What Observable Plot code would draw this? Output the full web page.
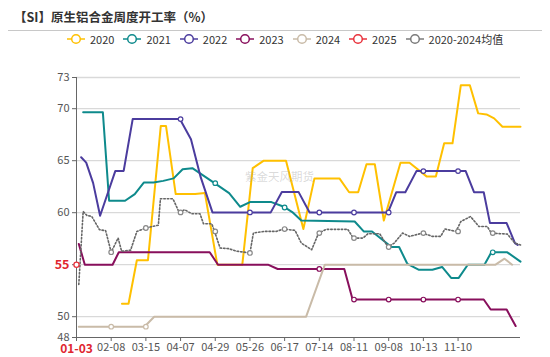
<!DOCTYPE html>
<html><head><meta charset="utf-8">
<script src="https://cdn.jsdelivr.net/npm/d3@7"></script>
<script src="https://cdn.jsdelivr.net/npm/@observablehq/plot@0.6"></script>
<style>
body{margin:0;width:550px;height:357px;overflow:hidden;background:#fff;font-family:"Noto Sans CJK SC","Noto Sans",sans-serif;}
#head{position:relative;height:50px;}
#title{position:absolute;left:14px;top:7px;font-size:12.5px;font-weight:bold;color:#333;white-space:nowrap;}
#rule{position:absolute;left:8px;top:30px;width:534px;height:1px;background:#c8c8c8;}
#legend{position:absolute;left:67px;top:31px;display:flex;align-items:center;font-size:11px;color:#333;white-space:nowrap;}
.item{display:flex;align-items:center;margin-right:9px;height:16px;}
.item svg{margin-right:5px;}
#chart{position:relative;}
#wm{position:absolute;left:245px;top:118px;font-size:11.5px;color:rgba(160,160,160,0.4);white-space:nowrap;}
</style></head>
<body>
<div id="head"><div id="title">【SI】原生铝合金周度开工率（%）</div><div id="rule"></div><div id="legend"></div></div>
<div id="chart"><div id="wm">紫金天风期货</div></div>
<script>
// ---- data (x = category position along the week axis, y = utilisation %) ----
const xTickPos = [0,5,10,15,20,25,30,35,40,45,50,55];
const xTickLabels = ["01-03","02-08","03-15","04-07","04-29","05-26","06-17","07-14","08-11","09-08","10-13","11-10"];
const yTicks = [48,50,55,60,65,70,73];
const yGrid = [50,55,60,65,70,73];

const seriesNames = ["2020","2021","2022","2023","2024","2025","2020-2024均值"];
const seriesColors = ["#FFC000","#0E8A8C","#4B3C9E","#880F5C","#C9BBA8","#E8323C","#7a7a7a"];

const s2020 = [[6.55,51.24],[7.5,51.24],[8.7,55.43],[10.3,55.43],[12.15,68.34],[12.9,68.34],[14.3,61.79],[17.1,61.79],[18.5,61.9],[20.3,55.0],[23.9,55.0],[25.4,64.28],[27.0,65.0],[30.2,65.0],[32.7,58.43],[34.3,63.3],[37.9,63.3],[39.3,61.97],[40.6,61.97],[41.8,64.66],[43.0,64.66],[44.3,59.25],[46.7,64.8],[48.0,64.8],[50.5,63.47],[51.8,63.47],[53.0,66.67],[54.2,66.67],[55.4,72.26],[56.7,72.26],[57.9,69.55],[59.1,69.45],[60.2,69.07],[61.4,68.26],[64,68.26]];
const s2021 = [[0.96,69.65],[3.8,69.65],[4.7,61.15],[7.0,61.15],[8.4,61.79],[9.7,62.9],[11.1,62.9],[12.5,63.06],[14.0,63.3],[15.3,64.18],[16.7,64.28],[19.9,62.84],[22.0,61.88],[23.6,60.57],[25.0,61.02],[28.1,61.02],[29.8,60.6],[31.1,60.06],[32.4,59.25],[40.1,59.15],[41.4,58.2],[42.6,58.2],[45.4,56.7],[46.5,56.7],[47.7,55.07],[49.3,54.52],[51.3,54.52],[52.7,54.78],[54.0,53.73],[55.1,53.73],[56.4,55.0],[58.8,55.0],[59.8,56.19],[62.1,56.19],[64,55.3]];
const s2022 = [[0.67,65.33],[1.4,64.82],[2.4,62.84],[3.4,59.71],[5.6,64.02],[6.8,64.02],[8.1,69.0],[14.9,69.0],[16.5,67.06],[17.9,63.42],[19.6,60.03],[28.0,60.03],[29.6,62.0],[32.0,62.0],[33.6,60.02],[44.9,60.02],[46.1,61.97],[47.4,61.97],[49.0,64.0],[56.1,64.0],[57.3,61.97],[58.7,61.97],[59.6,59.0],[62.0,59.0],[63.2,57.08],[63.6,56.9]];
const s2023 = [[0.33,57.0],[1.2,55.0],[5.2,55.0],[6.1,56.2],[19.2,56.2],[20.4,55.0],[27.6,55.0],[29.0,54.59],[38.6,54.59],[39.8,51.65],[58.7,51.65],[59.7,50.69],[62.0,50.69],[63.3,49.1]];
const s2024 = [[0.33,49.04],[9.8,49.04],[11.2,50.0],[33.1,50.0],[35.8,55.0],[60.4,55.0],[61.7,55.58],[62.8,55.0]];
const s2025 = [[0,55]];
const sAvg = [[0.33,53.1],[0.96,60.12],[1.5,59.74],[2.2,59.64],[3.3,58.37],[4.2,58.27],[5.0,56.2],[6.0,57.57],[6.5,56.3],[7.8,56.4],[8.7,58.2],[10.0,58.53],[11.8,58.8],[12.1,61.34],[13.9,61.34],[14.8,60.03],[15.6,60.28],[16.6,59.9],[17.8,59.9],[18.3,58.94],[19.5,58.94],[19.9,58.2],[20.7,56.6],[21.9,56.55],[23.1,56.3],[25.0,56.13],[25.5,58.05],[27.1,58.2],[28.8,58.2],[29.8,58.43],[31.5,58.3],[32.4,57.08],[33.9,56.44],[34.9,58.04],[36.0,58.4],[39.1,58.4],[39.9,57.56],[41.3,57.56],[42.0,57.98],[43.7,57.98],[44.9,56.7],[45.8,57.08],[47.0,58.04],[48.0,57.72],[49.9,58.04],[51.3,57.72],[52.5,57.72],[53.1,58.43],[54.7,58.2],[55.4,59.15],[56.8,59.63],[58.0,58.68],[59.2,58.68],[59.8,58.04],[62.1,57.94],[63.2,57.08],[64,56.9]];

const mk2021 = [[20,62.84],[30,60.5],[60,56.19]];
const mk2022 = [[15,69.0],[25,60.03],[35,60.02],[40,60.02],[45,60.02],[50,64.0],[55,64.0]];
const mk2023 = [[35,54.59],[40,51.65],[45,51.65],[50,51.65],[55,51.65]];
const mk2024 = [[5,49.04],[10,49.04]];
const mkAvg = [[5,56.2],[10,58.53],[15,60.03],[20,58.2],[25,56.13],[30,58.43],[35,58.04],[40,57.56],[45,56.7],[50,58.04],[55,58.2],[60,58.04]];

const xDomain = [0,64];
const yDomain = [48,73];

// ---- legend ----
const legend = document.getElementById("legend");
seriesNames.forEach((n,i)=>{
  const it = document.createElement("div"); it.className="item";
  const c = seriesColors[i];
  it.innerHTML = `<svg width="18" height="12"><line x1="0" x2="18" y1="6" y2="6" stroke="${c}" stroke-width="1.5"/><circle cx="9" cy="6" r="4.3" fill="#fff" stroke="${c}" stroke-width="1.5"/></svg><span>${n}</span>`;
  legend.appendChild(it);
});

const toRows = (arr)=>arr.map(([u,v])=>({u,v}));
const labelMap = new Map(xTickPos.map((p,i)=>[p,xTickLabels[i]]));
const C = seriesColors;
const lineOpts = (c)=>({x:"u",y:"v",stroke:c,strokeWidth:2,curve:"linear"});
const dotOpts = (c)=>({x:"u",y:"v",r:2.3,fill:"#fff",stroke:c,strokeWidth:1.2});
const ptr = toRows(s2025);
const ptrX = ptr[0].u, ptrY = ptr[0].v; // axis-pointer position: its labels replace the plain tick labels

const chart = Plot.plot({
  width:550, height:307,
  marginTop:27, marginBottom:20, marginLeft:76, marginRight:30,
  x:{domain:xDomain, axis:null, label:null},
  y:{domain:yDomain, axis:null, label:null},
  style:{fontFamily:'"Noto Sans CJK SC","Noto Sans",sans-serif', fontSize:"11px", color:"#555", background:"transparent"},
  marks:[
    Plot.gridY(yGrid,{stroke:"#d9d9d9",strokeOpacity:1,strokeWidth:1.3}),
    Plot.axisX({ticks:xTickPos, tickFormat:d=>d===ptrX ? "" : labelMap.get(d), tickSize:4, tickPadding:2, stroke:"#666", fill:"#555", label:null}),
    Plot.axisY({ticks:yTicks, tickFormat:d=>d===ptrY ? "" : String(d), tickSize:4, tickPadding:3, stroke:"#666", fill:"#555", label:null}),
    Plot.ruleX([xDomain[0]],{stroke:"#666"}),
    Plot.ruleY([yDomain[0]],{stroke:"#666"}),
    Plot.line(toRows(s2020), lineOpts(C[0])),
    Plot.line(toRows(s2021), lineOpts(C[1])),
    Plot.dot(toRows(mk2021), dotOpts(C[1])),
    Plot.line(toRows(s2022), lineOpts(C[2])),
    Plot.dot(toRows(mk2022), dotOpts(C[2])),
    Plot.line(toRows(s2023), lineOpts(C[3])),
    Plot.dot(toRows(mk2023), dotOpts(C[3])),
    Plot.line(toRows(s2024), lineOpts(C[4])),
    Plot.dot(toRows(mk2024), dotOpts(C[4])),
    Plot.line(toRows(sAvg), {x:"u",y:"v",stroke:"#666",strokeWidth:1.6,strokeDasharray:"1.5,2"}),
    Plot.dot(toRows(mkAvg), dotOpts("#888")),
    // axis pointer labels for the 2025 point
    Plot.text(ptr, {x:"u", frameAnchor:"bottom", lineAnchor:"top", text:d=>labelMap.get(d.u), dy:7, fill:"#E0262F", fontWeight:"bold", fontSize:12}),
    Plot.text(ptr, {x:"u", y:"v", text:d=>String(d.v), dx:-7, textAnchor:"end", fill:"#E0262F", fontWeight:"bold", fontSize:12.5, stroke:"white", strokeWidth:5}),
    Plot.dot(ptr, {x:"u",y:"v",r:2.6,fill:"#fff",stroke:C[5],strokeWidth:1.3})
  ]
});
document.getElementById("chart").prepend(chart);
</script>
</body></html>
